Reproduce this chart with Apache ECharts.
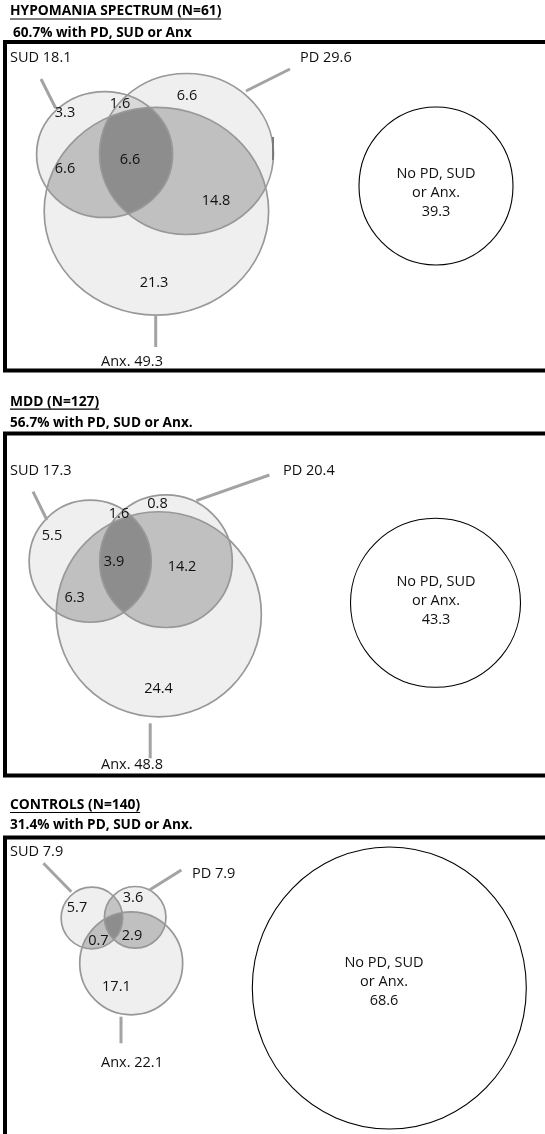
<!DOCTYPE html>
<html><head><meta charset="utf-8">
<script src="https://cdn.jsdelivr.net/npm/echarts@6/dist/echarts.min.js"></script>
<style>html,body{margin:0;padding:0;background:#fff}#c{width:545px;height:1134px}</style>
</head><body><div id="c"></div>
<script>
// ---------- DATA ----------
const setNames = ['SUD', 'PD', 'Anx.'];
const panelTitles = ['HYPOMANIA SPECTRUM (N=61)', 'MDD (N=127)', 'CONTROLS (N=140)'];
const panelSubtitles = ['60.7% with PD, SUD or Anx', '56.7% with PD, SUD or Anx.', '31.4% with PD, SUD or Anx.'];
const noneLabel = 'No PD, SUD\nor Anx.';
// set totals (%): [SUD, PD, Anx]
const hypoSets = [18.1, 29.6, 49.3];
const mddSets = [17.3, 20.4, 48.8];
const ctrlSets = [7.9, 7.9, 22.1];
// no PD, SUD or Anx (%)
const noneValues = [39.3, 43.3, 68.6];
// region values (%): [SUD only, PD only, Anx only, SUD&PD, SUD&Anx, PD&Anx, all three]
const hypoRegions = [3.3, 6.6, 21.3, 1.6, 6.6, 14.8, 6.6];
const mddRegions = [5.5, 0.8, 24.4, 1.6, 6.3, 14.2, 3.9];
const ctrlRegions = [5.7, 3.6, 17.1, null, 0.7, 2.9, null];

const setValues = [hypoSets, mddSets, ctrlSets];
const regionValues = [hypoRegions, mddRegions, ctrlRegions];

// ---------- LAYOUT (positions in page units) ----------
const layout = [
  {
    centers: [[104.6, 154.5], [186.5, 154], [156.4, 211.3]], k: 14.8, aspect: 1.08,
    none: { c: [436, 186], rx: 77, ry: 79, textY: 193 , textX: 436},
    regionPos: [[65, 113], [187, 96], [154, 283], [120, 104], [65, 169], [216, 201], [130, 160]],
    setLabelPos: [[10, 58, 'left'], [300, 58, 'left'], [132, 362, 'center']],
    leaders: [[[41, 79], [55.6, 108]], [[290, 69], [246, 91]], [[155.7, 315], [155.7, 347]]],
    extra: [[[273, 137], [273, 160]]],
    pairColor: '#d9d9d9'
  },
  {
    centers: [[90.2, 561.2], [166, 561.2], [158.8, 614.3]], k: 14.68, aspect: 1.0,
    none: { c: [435.5, 602.8], rx: 85, ry: 84.5, textY: 600.5, textX: 436 },
    regionPos: [[52, 536], [157.5, 504], [158.5, 689], [119, 514], [74.7, 598], [182, 567], [114, 561.7]],
    setLabelPos: [[10, 470.7, 'left'], [283, 470.7, 'left'], [132, 765, 'center']],
    leaders: [[[33, 491.7], [46.9, 520]], [[269.4, 475], [196.4, 500.7]], [[150.2, 723.3], [150.2, 758.3]]],
    extra: [],
    pairColor: '#d9d9d9'
  },
  {
    centers: [[91.9, 918], [135.2, 917.3], [131.2, 963.3]], k: 10.95, aspect: 1.0,
    none: { c: [389.3, 988], rx: 137, ry: 141, textY: 981.7, textX: 384 },
    regionPos: [[77, 908], [133, 897.7], [116.4, 987.3], [null, null], [98.4, 941], [132, 936], [null, null]],
    setLabelPos: [[10, 851.7, 'left'], [192, 874, 'left'], [132, 1063.3, 'center']],
    leaders: [[[43.4, 863.3], [71.3, 891.7]], [[181.4, 870], [149.5, 890]], [[121, 1016.7], [121, 1043.3]]],
    extra: [],
    pairColor: '#c4c4c4'
  }
];

const FONT = '"Open Sans", "Noto Sans", sans-serif';
const LABEL_FONT = '14.5px ' + FONT;
const TITLE_FONT = 'bold 13.8px ' + FONT;
const SUB_FONT = 'bold 13.6px ' + FONT;

function inside(e, x, y) {
  const dx = (x - e.cx) / e.rx, dy = (y - e.cy) / e.ry;
  return dx * dx + dy * dy <= 1.0005;
}
function intersect(list) {
  const pts = [];
  list.forEach((e, i) => {
    const N = 720;
    for (let t = 0; t < N; t++) {
      const a = t / N * 2 * Math.PI;
      const x = e.cx + e.rx * Math.cos(a), y = e.cy + e.ry * Math.sin(a);
      if (list.every((o, j) => j === i || inside(o, x, y))) pts.push([x, y]);
    }
  });
  if (pts.length < 3) return null;
  let mx = 0, my = 0;
  pts.forEach(p => { mx += p[0]; my += p[1]; });
  mx /= pts.length; my /= pts.length;
  pts.sort((p, q) => Math.atan2(p[1] - my, p[0] - mx) - Math.atan2(q[1] - my, q[0] - mx));
  return pts;
}

function makeRender(pi) {
  const L = layout[pi], sets = setValues[pi], regions = regionValues[pi];
  return function (params, api) {
    const kids = [];
    const ell = sets.map((v, j) => {
      const c = api.coord(L.centers[j]);
      const r = L.k * Math.sqrt(v);
      const s = api.size([r * L.aspect, r]);
      return { cx: c[0], cy: c[1], rx: s[0], ry: s[1] };
    });
    // single fills
    [2, 1, 0].forEach(j => kids.push({ type: 'ellipse', shape: Object.assign({}, ell[j]), style: { fill: '#efefef', stroke: null } }));
    // pairwise overlaps
    [[0, 1, L.pairColor], [0, 2, '#c0c0c0'], [1, 2, '#c0c0c0']].forEach(([a, b, col]) => {
      const poly = intersect([ell[a], ell[b]]);
      if (poly) kids.push({ type: 'polygon', shape: { points: poly }, style: { fill: col, stroke: null } });
    });
    // triple overlap
    const tri = intersect(ell);
    if (tri) kids.push({ type: 'polygon', shape: { points: tri }, style: { fill: '#8d8d8d', stroke: null } });
    // outlines
    ell.forEach(e => kids.push({ type: 'ellipse', shape: Object.assign({}, e), style: { fill: null, stroke: '#989898', lineWidth: 1.7 } }));
    // "none" circle
    const nc = api.coord(L.none.c);
    const ns = api.size([L.none.rx, L.none.ry]);
    kids.push({ type: 'ellipse', shape: { cx: nc[0], cy: nc[1], rx: ns[0], ry: ns[1] }, style: { fill: '#ffffff', stroke: '#000000', lineWidth: 1.1 } });
    const nt = api.coord([L.none.textX, L.none.textY]);
    kids.push({ type: 'text', x: nt[0], y: nt[1], style: { text: noneLabel + '\n' + noneValues[pi].toFixed(1), font: LABEL_FONT, fill: '#111', align: 'center', verticalAlign: 'middle', textAlign: 'center', textVerticalAlign: 'middle', lineHeight: 19 } });
    // leader lines
    L.leaders.concat(L.extra).forEach((seg, idx) => {
      const p1 = api.coord(seg[0]), p2 = api.coord(seg[1]);
      const isExtra = idx >= L.leaders.length;
      kids.push({ type: 'line', shape: { x1: p1[0], y1: p1[1], x2: p2[0], y2: p2[1] }, style: { stroke: isExtra ? '#7a7a7a' : '#a3a3a3', lineWidth: isExtra ? 2 : 3 } });
    });
    // set labels
    sets.forEach((v, j) => {
      const lp = L.setLabelPos[j];
      const p = api.coord([lp[0], lp[1]]);
      kids.push({ type: 'text', x: p[0], y: p[1], style: { text: setNames[j] + ' ' + v.toFixed(1), font: LABEL_FONT, fill: '#111', align: lp[2], verticalAlign: 'middle', textAlign: lp[2], textVerticalAlign: 'middle' } });
    });
    // region labels
    regions.forEach((v, j) => {
      if (v === null) return;
      const p = api.coord(L.regionPos[j]);
      kids.push({ type: 'text', x: p[0], y: p[1], style: { text: v.toFixed(1), font: LABEL_FONT, fill: '#111', align: 'center', verticalAlign: 'middle', textAlign: 'center', textVerticalAlign: 'middle' } });
    });
    return { type: 'group', children: kids };
  };
}

// ---------- frames and headings ----------
const frames = [[42, 370.5], [433.5, 775.5], [837.5, 1140]];
const titleY = [11.5, 401.7, 805];
const subY = [33, 423, 825];
const subX = [13, 10, 10];
const graphic = [];
frames.forEach(([t, b]) => {
  graphic.push({ type: 'rect', shape: { x: 5, y: t, width: 600, height: b - t }, style: { fill: null, stroke: '#000', lineWidth: 4 }, silent: true });
});
const measureCtx = document.createElement('canvas').getContext('2d');
measureCtx.font = TITLE_FONT;
panelTitles.forEach((t, i) => {
  graphic.push({ type: 'text', x: 10, y: titleY[i], style: { text: t, font: TITLE_FONT, fill: '#000', textVerticalAlign: 'middle', verticalAlign: 'middle' } });
  graphic.push({ type: 'line', shape: { x1: 10, y1: titleY[i] + 7.5, x2: 10 + measureCtx.measureText(t).width, y2: titleY[i] + 7.5 }, style: { stroke: '#000', lineWidth: 1.2 }, silent: true });
  graphic.push({ type: 'text', x: subX[i], y: subY[i], style: { text: panelSubtitles[i], font: SUB_FONT, fill: '#000', textVerticalAlign: 'middle', verticalAlign: 'middle' } });
});

const chart = echarts.init(document.getElementById('c'));
chart.setOption({
  animation: false,
  grid: { left: 0, right: 0, top: 0, bottom: 0 },
  xAxis: { type: 'value', min: 0, max: 545, show: false },
  yAxis: { type: 'value', min: 0, max: 1134, inverse: true, show: false },
  graphic: graphic,
  series: [0, 1, 2].map(i => ({ type: 'custom', coordinateSystem: 'cartesian2d', data: [[0, 0]], renderItem: makeRender(i), silent: true, clip: false, z: 2 }))
});
</script>
</body></html>
